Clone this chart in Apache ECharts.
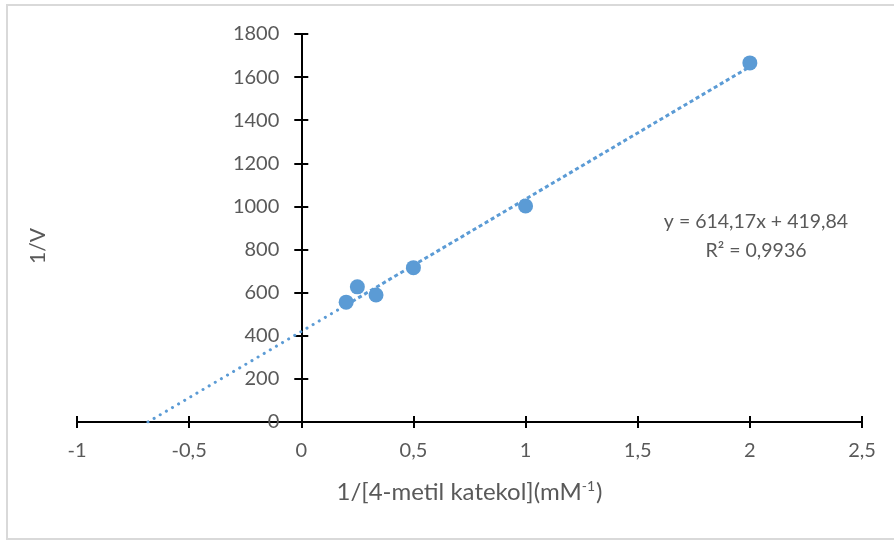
<!DOCTYPE html>
<html>
<head>
<meta charset="utf-8">
<script src="https://cdn.jsdelivr.net/npm/echarts@6/dist/echarts.min.js"></script>
<style>
  html, body { margin: 0; padding: 0; background: #fff; }
  #chart { width: 894px; height: 540px; }
</style>
</head>
<body>
<div id="chart"></div>
<script>
// Lineweaver-Burk data: 1/[S] (mM^-1) vs 1/V
const invSubstrate = [0.2, 0.25, 0.3333, 0.5, 1, 2];
const invVelocity = [556, 627, 589, 716, 1002, 1666];

// Linear fit reported on the chart
const fitSlope = 614.17;
const fitIntercept = 419.84;
const fitR2 = 0.9936;

const xTicks = { min: -1, max: 2.5, interval: 0.5 };
const yTicks = { min: 0, max: 1800, interval: 200 };

const fmt = (v, d) => v.toFixed(d).replace('.', ',');
const fitLine = x => fitSlope * x + fitIntercept;

// Backward forecast reaches the x-intercept; the fitted range spans the data
const xIntercept = -fitIntercept / fitSlope;
const xFirst = Math.min(...invSubstrate);
const xLast = Math.max(...invSubstrate);
const forecastPart = [[xIntercept, 0], [xFirst, fitLine(xFirst)]];
const fittedPart = [[xFirst, fitLine(xFirst)], [xLast, fitLine(xLast)]];

const blue = '#5b9bd5';
const gray = '#595959';
const font = 'Lato, "Liberation Sans", sans-serif';

// Plot box in pixels
const plot = { left: 77, right: 32, top: 34, bottom: 118 };
const plotWidth = 894 - plot.left - plot.right;
// The vertical axis crosses at x = 0: a second grid starts there
const zeroLeft = plot.left + plotWidth * (0 - xTicks.min) / (xTicks.max - xTicks.min);

const chart = echarts.init(document.getElementById('chart'), null, { renderer: 'canvas' });

const tickStyle = { color: '#000', width: 2 };
const hiddenAxis = { show: false };

chart.setOption({
  animation: false,
  backgroundColor: '#fff',
  grid: [
    { left: plot.left, right: plot.right, top: plot.top, bottom: plot.bottom },  // data + x axis (outer ticks)
    { left: plot.left, right: plot.right, top: plot.top, bottom: plot.bottom },  // x axis inner ticks
    { left: zeroLeft, right: plot.right, top: plot.top, bottom: plot.bottom },   // y axis at x = 0 (outer ticks)
    { left: zeroLeft, right: plot.right, top: plot.top, bottom: plot.bottom }    // y axis inner ticks
  ],
  xAxis: [{
    gridIndex: 0, type: 'value',
    min: xTicks.min, max: xTicks.max, interval: xTicks.interval,
    splitLine: { show: false },
    axisLine: { lineStyle: { color: '#000', width: 2 } },
    axisTick: { show: true, length: 6, lineStyle: tickStyle },
    axisLabel: {
      color: gray, fontSize: 20, fontFamily: font, margin: 19,
      formatter: v => String(v).replace('.', ',')
    },
    name: '{t|1/[4-metil katekol](mM}{s|-1}{t|)}',
    nameLocation: 'middle',
    nameGap: 57,
    nameTextStyle: {
      rich: {
        t: { color: gray, fontSize: 24, fontFamily: font },
        s: { color: gray, fontSize: 14, fontFamily: font, verticalAlign: 'top', padding: [0, 1, 12, 0] }
      }
    }
  }, {
    gridIndex: 1, type: 'value',
    min: xTicks.min, max: xTicks.max, interval: xTicks.interval,
    splitLine: { show: false },
    axisLine: { show: false },
    axisTick: { show: true, inside: true, length: 6, lineStyle: tickStyle },
    axisLabel: { show: false }
  }, {
    gridIndex: 2, type: 'value', min: 0, max: xTicks.max, ...hiddenAxis
  }, {
    gridIndex: 3, type: 'value', min: 0, max: xTicks.max, ...hiddenAxis
  }],
  yAxis: [{
    gridIndex: 0, type: 'value',
    min: yTicks.min, max: yTicks.max, interval: yTicks.interval, ...hiddenAxis
  }, {
    gridIndex: 1, type: 'value',
    min: yTicks.min, max: yTicks.max, interval: yTicks.interval, ...hiddenAxis
  }, {
    gridIndex: 2, type: 'value',
    min: yTicks.min, max: yTicks.max, interval: yTicks.interval,
    splitLine: { show: false },
    axisLine: { show: true, lineStyle: { color: '#000', width: 2 } },
    axisTick: { show: true, length: 7, lineStyle: tickStyle },
    axisLabel: { color: gray, fontSize: 20, fontFamily: font, margin: 22, formatter: v => String(v) }
  }, {
    gridIndex: 3, type: 'value',
    min: yTicks.min, max: yTicks.max, interval: yTicks.interval,
    splitLine: { show: false },
    axisLine: { show: false },
    axisTick: { show: true, inside: true, length: 7, lineStyle: tickStyle },
    axisLabel: { show: false }
  }],
  series: [{
    type: 'line',
    xAxisIndex: 0, yAxisIndex: 0,
    data: forecastPart,
    symbol: 'none',
    lineStyle: { color: blue, width: 3, type: [0.1, 7], cap: 'round' },
    z: 4
  }, {
    type: 'line',
    xAxisIndex: 0, yAxisIndex: 0,
    data: fittedPart,
    symbol: 'none',
    lineStyle: { color: blue, width: 3, type: [4, 3], cap: 'butt' },
    z: 4
  }, {
    type: 'scatter',
    xAxisIndex: 0, yAxisIndex: 0,
    data: invSubstrate.map((x, i) => [x, invVelocity[i]]),
    symbol: 'circle',
    symbolSize: 15,
    itemStyle: { color: blue, opacity: 1 },
    z: 5
  }],
  graphic: [{
    type: 'rect',
    shape: { x: 7, y: 5, width: 900, height: 534 },
    style: { fill: 'none', stroke: '#d9d9d9', lineWidth: 2 },
    silent: true, z: -1
  }, {
    type: 'text',
    x: 38, y: 246,
    rotation: Math.PI / 2,
    style: { text: '1/V', fill: gray, fontSize: 21, fontFamily: font, align: 'center', verticalAlign: 'middle' }
  }, {
    type: 'text',
    x: 756, y: 222,
    style: {
      text: 'y = ' + fmt(fitSlope, 2) + 'x + ' + fmt(fitIntercept, 2),
      fill: gray, fontSize: 19.5, fontFamily: font, align: 'center', verticalAlign: 'middle'
    }
  }, {
    type: 'text',
    x: 756, y: 251,
    style: {
      text: 'R² = ' + fmt(fitR2, 4),
      fill: gray, fontSize: 19.5, fontFamily: font, align: 'center', verticalAlign: 'middle'
    }
  }]
});
</script>
</body>
</html>
